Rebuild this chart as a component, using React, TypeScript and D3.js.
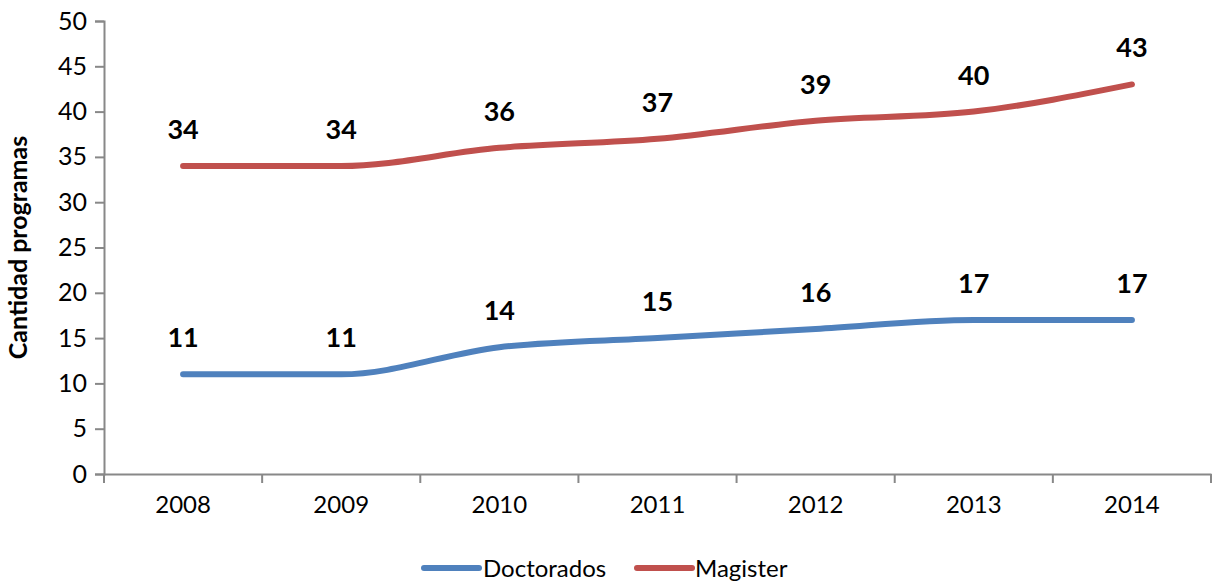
import React, { useRef, useEffect } from 'react';
import * as d3 from 'd3';

const years = ['2008', '2009', '2010', '2011', '2012', '2013', '2014'];
const doctorados = [11, 11, 14, 15, 16, 17, 17];
const magister = [34, 34, 36, 37, 39, 40, 43];
const yTicks = [0, 5, 10, 15, 20, 25, 30, 35, 40, 45, 50];

const series = [
  { name: 'Doctorados', values: doctorados, color: '#4F81BD' },
  { name: 'Magister', values: magister, color: '#C0504D' },
];

const width = 1212;
const height = 584;
const font = 'Lato, "Open Sans", sans-serif';

const App: React.FC = () => {
  const svgRef = useRef<SVGSVGElement>(null);

  useEffect(() => {
    if (!svgRef.current) return;
    const svg = d3.select(svgRef.current);
    svg.selectAll('*').remove();

    const margin = { top: 21, right: 1, bottom: 110, left: 104 };
    const innerWidth = width - margin.left - margin.right;
    const innerHeight = height - margin.top - margin.bottom;

    const x = d3.scaleBand<string>().domain(years).range([0, innerWidth]);
    const y = d3.scaleLinear().domain([0, 50]).range([innerHeight, 0]);

    const g = svg
      .append('g')
      .attr('transform', `translate(${margin.left},${margin.top})`);

    // y axis
    const yAxis = g
      .append('g')
      .call(d3.axisLeft(y).tickValues(yTicks).tickSize(9).tickPadding(8));
    yAxis.select('.domain').attr('stroke', '#888').attr('stroke-width', 2);
    yAxis.selectAll('line').attr('stroke', '#888').attr('stroke-width', 2);
    yAxis
      .selectAll('text')
      .attr('font-family', font)
      .attr('font-size', 25)
      .attr('fill', '#000');

    // x axis
    const xAxis = g
      .append('g')
      .attr('transform', `translate(0,${innerHeight})`)
      .call(d3.axisBottom(x).tickSize(0).tickPadding(22));
    xAxis.select('.domain').attr('stroke', '#888').attr('stroke-width', 2);
    xAxis
      .selectAll('text')
      .attr('font-family', font)
      .attr('font-size', 24)
      .attr('fill', '#000');
    const bounds = years.map((d) => x(d) as number).concat([innerWidth]);
    g.append('g')
      .selectAll('line')
      .data(bounds)
      .enter()
      .append('line')
      .attr('x1', (d) => d)
      .attr('x2', (d) => d)
      .attr('y1', innerHeight)
      .attr('y2', innerHeight + 9)
      .attr('stroke', '#888')
      .attr('stroke-width', 2);

    // y axis title
    svg
      .append('text')
      .attr('transform', `translate(27,${margin.top + innerHeight / 2}) rotate(-90)`)
      .attr('text-anchor', 'middle')
      .attr('font-family', font)
      .attr('font-weight', 'bold')
      .attr('font-size', 25)
      .text('Cantidad programas');

    const cx = (i: number) => (x(years[i]) as number) + x.bandwidth() / 2;
    const line = d3
      .line<number>()
      .x((_, i) => cx(i))
      .y((d) => y(d))
      .curve(d3.curveMonotoneX);

    series.forEach((s) => {
      g.append('path')
        .datum(s.values)
        .attr('d', line)
        .attr('fill', 'none')
        .attr('stroke', s.color)
        .attr('stroke-width', 6)
        .attr('stroke-linecap', 'round')
        .attr('stroke-linejoin', 'round');

      g.append('g')
        .selectAll('text')
        .data(s.values)
        .enter()
        .append('text')
        .attr('x', (_, i) => cx(i))
        .attr('y', (d) => y(d) - 27)
        .attr('text-anchor', 'middle')
        .attr('font-family', font)
        .attr('font-weight', 'bold')
        .attr('font-size', 27)
        .text((d) => d);
    });

    // legend
    const legendItems = [
      { ...series[0], lx: 424, tx: 483 },
      { ...series[1], lx: 637, tx: 695 },
    ];
    const legend = svg.append('g');
    legendItems.forEach((it) => {
      legend
        .append('line')
        .attr('x1', it.lx)
        .attr('x2', it.lx + 55)
        .attr('y1', 568)
        .attr('y2', 568)
        .attr('stroke', it.color)
        .attr('stroke-width', 6)
        .attr('stroke-linecap', 'round');
      legend
        .append('text')
        .attr('x', it.tx)
        .attr('y', 577)
        .attr('font-family', font)
        .attr('font-size', 24)
        .text(it.name);
    });
  }, []);

  return (
    <svg
      ref={svgRef}
      width={width}
      height={height}
      style={{ position: 'absolute', left: 0, top: 0, background: '#fff' }}
    />
  );
};

export default App;
